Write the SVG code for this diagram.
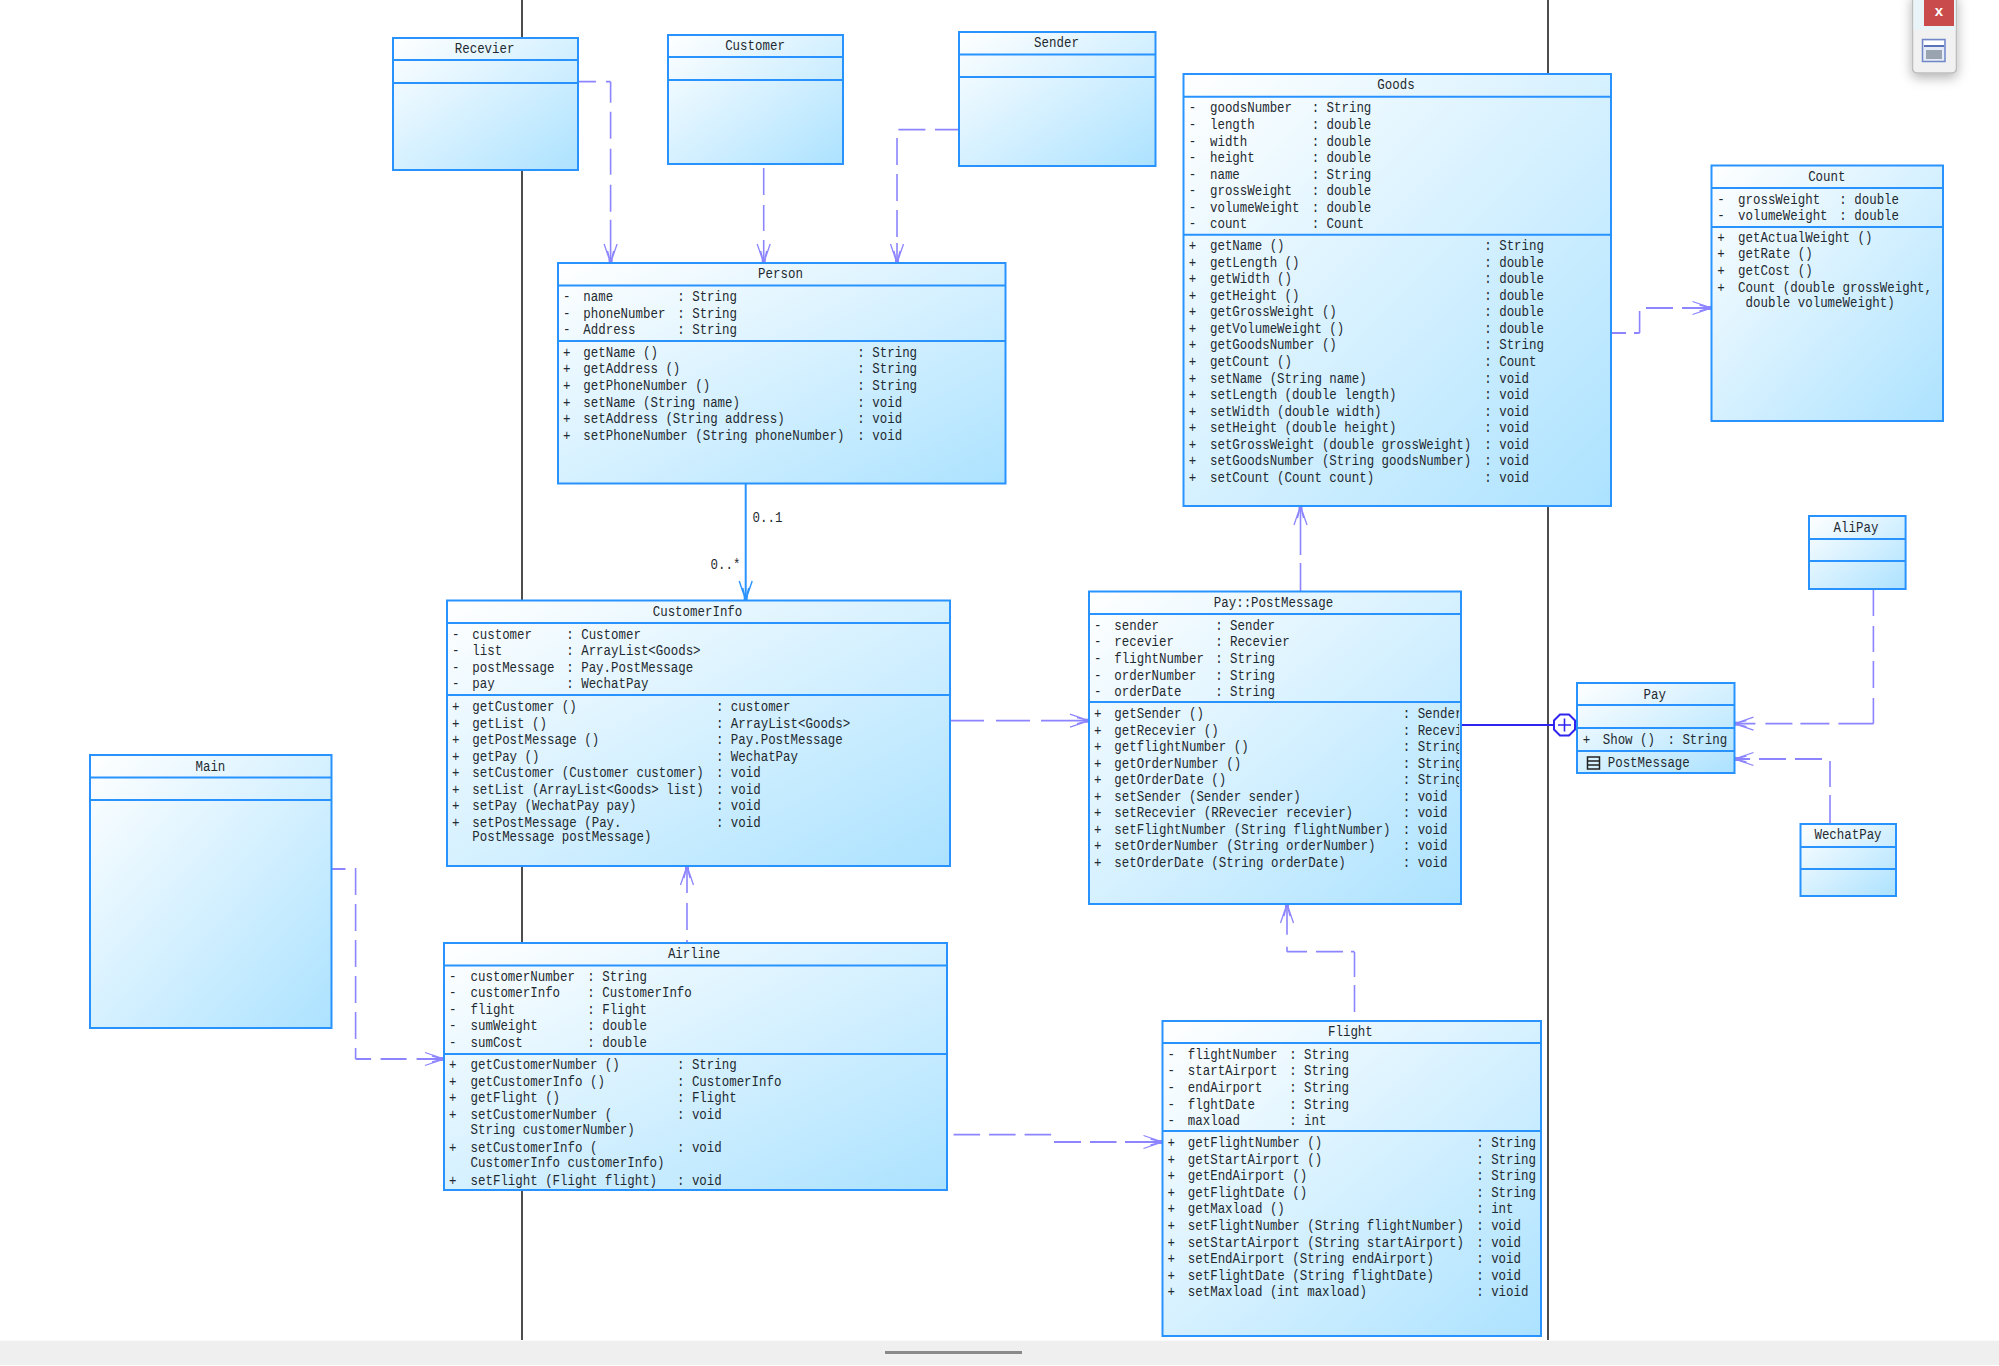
<svg xmlns="http://www.w3.org/2000/svg" width="1999" height="1366" viewBox="0 0 1999 1366">
<style>
.b{fill:url(#g);stroke:#2893ff;stroke-width:2}
.d{fill:none;stroke:#2893ff;stroke-width:2}
.ti{font:15px "Liberation Mono",monospace;fill:#1f2a30;text-anchor:middle}
.r text,.l{font:15px "Liberation Mono",monospace;fill:#1f2a30}
.dv{fill:none;stroke:#8d84ff;stroke-width:1.6}
.dh{fill:none;stroke:#8d84ff;stroke-width:1.8}
</style>
<defs>
<linearGradient id="g" x1="0" y1="0" x2="1" y2="1"><stop offset="0" stop-color="#fff"/><stop offset="1" stop-color="#ace2ff"/></linearGradient>
<marker id="o" markerUnits="userSpaceOnUse" markerWidth="24" markerHeight="18" refX="21" refY="8" orient="auto"><path d="M2 1.500L21 8L2 14.500M9 5L21 8L9 11" fill="none" stroke="#8d84ff" stroke-width="1.300"/><rect x="17" y="6" width="4" height="4" fill="#8d84ff"/></marker>
<marker id="n" markerUnits="userSpaceOnUse" markerWidth="24" markerHeight="18" refX="21" refY="8" orient="auto"><path d="M2 1.500L21 8L2 14.500M9 5L21 8L9 11" fill="none" stroke="#2893ff" stroke-width="1.400"/><rect x="17" y="6" width="4" height="4" fill="#2893ff"/></marker>
<clipPath id="c"><rect x="-10" y="700" width="456" height="90"/></clipPath>
<filter id="s" x="-40%" y="-30%" width="180%" height="170%"><feDropShadow dx="0" dy="4" stdDeviation="6" flood-color="#000" flood-opacity=".3"/></filter>
</defs>
<rect width="1999" height="1366" fill="#fff"/>
<path d="M522 0V1340M1548 0V1340" stroke="#222" stroke-width="1.600" fill="none"/>
<g id="connectors">
<g id="recevier-person"><path class="dh" stroke-dasharray="18 10 20" d="M578 81.700H610.600"/><path class="dv" stroke-dasharray="21 9 27 10 26 10 27 8 60" marker-end="url(#o)" d="M610.600 81.700V263"/></g>
<path id="customer-person" class="dv" stroke-dasharray="27 10 26 9 40" marker-end="url(#o)" d="M763.700 168V263"/>
<g id="sender-person"><path class="dh" stroke-dasharray="24 9.600 27" d="M959 129.700H897"/><path class="dv" stroke-dasharray="27 9 27 9 27 6 30" marker-end="url(#o)" d="M897 138V263"/></g>
<path id="person-customerinfo" fill="none" stroke="#2893ff" stroke-width="2" marker-end="url(#n)" d="M745.700 483.500V600"/>
<path id="airline-customerinfo" class="dv" stroke-dasharray="3 10 27 10 60" marker-end="url(#o)" d="M687 943V866"/>
<path id="postmessage-goods" class="dv" stroke-dasharray="28 8 60" marker-end="url(#o)" d="M1300.500 591V506"/>
<path id="customerinfo-postmessage" class="dh" stroke-dasharray="34 12 34 11 60" marker-end="url(#o)" d="M950 720.700H1089"/>
<g id="main-airline"><path class="dh" stroke-dasharray="14 10" d="M331.500 869H355.600"/><path class="dv" stroke-dasharray="27 9" d="M355.600 868V1059"/><path class="dh" stroke-dasharray="15.500 9.500 26 10 40" marker-end="url(#o)" d="M355.600 1059H444"/></g>
<g id="airline-flight"><path class="dh" stroke-dasharray="26.500 9" d="M953.600 1134.700H1052"/><path class="dh" stroke-dasharray="27 9 26.500 8.500 60" marker-end="url(#o)" d="M1054 1142H1162.500"/></g>
<g id="flight-postmessage"><path class="dv" stroke-dasharray="27 8 25" d="M1354.500 1012V951.700"/><path class="dh" stroke-dasharray="3.500 8 27 9 20" d="M1354.500 951.700H1287"/><path class="dv" stroke-dasharray="5 12 60" marker-end="url(#o)" d="M1287 951.700V904"/></g>
<g id="goods-count"><path class="dh" stroke-dasharray="15 8 6" d="M1611 333H1639.600"/><path class="dv" d="M1639.600 333V311"/><path class="dh" stroke-dasharray="27 9 60" marker-end="url(#o)" d="M1646 308H1711.500"/></g>
<g id="alipay-pay"><path class="dv" stroke-dasharray="27 10 26 9 27 10" d="M1873.400 589V723.700"/><path class="dh" stroke-dasharray="35 9 29 8 27 10 60" marker-end="url(#o)" d="M1873.400 723.700H1734.500"/></g>
<g id="wechatpay-pay"><path class="dv" stroke-dasharray="29 8 26" d="M1830 824V761"/><path class="dh" stroke-dasharray="0 8 27 9 27 9 60" marker-end="url(#o)" d="M1830 759H1734.500"/></g>
<g id="postmessage-pay"><path d="M1461 725H1554M1575 725H1577" stroke="#2f25ee" stroke-width="2.200" fill="none"/><path d="M1560 714.500H1569L1575 720.500V729.500L1569 735.500H1560L1554 729.500V720.500Z" fill="#fff" stroke="#2f25ee" stroke-width="2"/><path d="M1558 725H1571M1564.500 718.500V731.500" stroke="#2f25ee" stroke-width="1.600"/></g>
</g>
<text class="l" transform="translate(752.600 522) scale(.83 1)">0..1</text>
<text class="l" transform="translate(710.500 569) scale(.83 1)">0..*</text>

<g id="recevier"><rect class="b" x="393" y="38" width="185" height="132"/><path class="d" d="M393 60H578M393 83H578"/><text class="ti" transform="translate(484.600 53.300) scale(.83 1)">Recevier</text></g>
<g id="customer"><rect class="b" x="668" y="35" width="175" height="129"/><path class="d" d="M668 57H843M668 80H843"/><text class="ti" transform="translate(755 50) scale(.83 1)">Customer</text></g>
<g id="sender"><rect class="b" x="959" y="32" width="196.500" height="134"/><path class="d" d="M959 54.500H1155.500M959 77H1155.500"/><text class="ti" transform="translate(1056.500 47.300) scale(.83 1)">Sender</text></g>

<g id="person"><rect class="b" x="558" y="263" width="447.500" height="220.500"/><path class="d" d="M558 285.500H1005.500M558 341H1005.500"/><text class="ti" transform="translate(780.500 278.300) scale(.83 1)">Person</text>
<g class="r" transform="translate(558 0) scale(.83 1)">
<text y="301"><tspan x="6">-</tspan><tspan x="30.500">name</tspan><tspan x="143.700">: String</tspan></text>
<text y="317.600"><tspan x="6">-</tspan><tspan x="30.500">phoneNumber</tspan><tspan x="143.700">: String</tspan></text>
<text y="334"><tspan x="6">-</tspan><tspan x="30.500">Address</tspan><tspan x="143.700">: String</tspan></text>
<text y="357"><tspan x="6">+</tspan><tspan x="30.500">getName ()</tspan><tspan x="360.700">: String</tspan></text>
<text y="373.500"><tspan x="6">+</tspan><tspan x="30.500">getAddress ()</tspan><tspan x="360.700">: String</tspan></text>
<text y="390"><tspan x="6">+</tspan><tspan x="30.500">getPhoneNumber ()</tspan><tspan x="360.700">: String</tspan></text>
<text y="406.600"><tspan x="6">+</tspan><tspan x="30.500">setName (String name)</tspan><tspan x="360.700">: void</tspan></text>
<text y="423.200"><tspan x="6">+</tspan><tspan x="30.500">setAddress (String address)</tspan><tspan x="360.700">: void</tspan></text>
<text y="439.700"><tspan x="6">+</tspan><tspan x="30.500">setPhoneNumber (String phoneNumber)</tspan><tspan x="360.700">: void</tspan></text>
</g></g>

<g id="goods"><rect class="b" x="1183.500" y="74" width="427.500" height="432"/><path class="d" d="M1183.500 96.700H1611M1183.500 234.700H1611"/><text class="ti" transform="translate(1396 89.300) scale(.83 1)">Goods</text>
<g class="r" transform="translate(1183 0) scale(.83 1)">
<text y="112.500"><tspan x="7">-</tspan><tspan x="32.500">goodsNumber</tspan><tspan x="155">: String</tspan></text>
<text y="129"><tspan x="7">-</tspan><tspan x="32.500">length</tspan><tspan x="155">: double</tspan></text>
<text y="145.600"><tspan x="7">-</tspan><tspan x="32.500">width</tspan><tspan x="155">: double</tspan></text>
<text y="162.100"><tspan x="7">-</tspan><tspan x="32.500">height</tspan><tspan x="155">: double</tspan></text>
<text y="178.700"><tspan x="7">-</tspan><tspan x="32.500">name</tspan><tspan x="155">: String</tspan></text>
<text y="195.300"><tspan x="7">-</tspan><tspan x="32.500">grossWeight</tspan><tspan x="155">: double</tspan></text>
<text y="211.800"><tspan x="7">-</tspan><tspan x="32.500">volumeWeight</tspan><tspan x="155">: double</tspan></text>
<text y="228.400"><tspan x="7">-</tspan><tspan x="32.500">count</tspan><tspan x="155">: Count</tspan></text>
<text y="250.200"><tspan x="7">+</tspan><tspan x="32.500">getName ()</tspan><tspan x="363">: String</tspan></text>
<text y="266.700"><tspan x="7">+</tspan><tspan x="32.500">getLength ()</tspan><tspan x="363">: double</tspan></text>
<text y="283.300"><tspan x="7">+</tspan><tspan x="32.500">getWidth ()</tspan><tspan x="363">: double</tspan></text>
<text y="299.800"><tspan x="7">+</tspan><tspan x="32.500">getHeight ()</tspan><tspan x="363">: double</tspan></text>
<text y="316.400"><tspan x="7">+</tspan><tspan x="32.500">getGrossWeight ()</tspan><tspan x="363">: double</tspan></text>
<text y="332.900"><tspan x="7">+</tspan><tspan x="32.500">getVolumeWeight ()</tspan><tspan x="363">: double</tspan></text>
<text y="349.500"><tspan x="7">+</tspan><tspan x="32.500">getGoodsNumber ()</tspan><tspan x="363">: String</tspan></text>
<text y="366"><tspan x="7">+</tspan><tspan x="32.500">getCount ()</tspan><tspan x="363">: Count</tspan></text>
<text y="382.600"><tspan x="7">+</tspan><tspan x="32.500">setName (String name)</tspan><tspan x="363">: void</tspan></text>
<text y="399.200"><tspan x="7">+</tspan><tspan x="32.500">setLength (double length)</tspan><tspan x="363">: void</tspan></text>
<text y="415.700"><tspan x="7">+</tspan><tspan x="32.500">setWidth (double width)</tspan><tspan x="363">: void</tspan></text>
<text y="432.300"><tspan x="7">+</tspan><tspan x="32.500">setHeight (double height)</tspan><tspan x="363">: void</tspan></text>
<text y="448.800"><tspan x="7">+</tspan><tspan x="32.500">setGrossWeight (double grossWeight)</tspan><tspan x="363">: void</tspan></text>
<text y="465.400"><tspan x="7">+</tspan><tspan x="32.500">setGoodsNumber (String goodsNumber)</tspan><tspan x="363">: void</tspan></text>
<text y="481.900"><tspan x="7">+</tspan><tspan x="32.500">setCount (Count count)</tspan><tspan x="363">: void</tspan></text>
</g></g>

<g id="count"><rect class="b" x="1711.500" y="165.500" width="231.500" height="255.500"/><path class="d" d="M1711.500 188H1943M1711.500 227H1943"/><text class="ti" transform="translate(1826.800 181) scale(.83 1)">Count</text>
<g class="r" transform="translate(1711.500 0) scale(.83 1)">
<text y="204"><tspan x="7">-</tspan><tspan x="32">grossWeight</tspan><tspan x="154">: double</tspan></text>
<text y="220.500"><tspan x="7">-</tspan><tspan x="32">volumeWeight</tspan><tspan x="154">: double</tspan></text>
<text y="242"><tspan x="7">+</tspan><tspan x="32">getActualWeight ()</tspan></text>
<text y="258.500"><tspan x="7">+</tspan><tspan x="32">getRate ()</tspan></text>
<text y="275"><tspan x="7">+</tspan><tspan x="32">getCost ()</tspan></text>
<text y="291.600"><tspan x="7">+</tspan><tspan x="32">Count (double grossWeight,</tspan></text>
<text y="307" x="41">double volumeWeight)</text>
</g></g>

<g id="customerinfo"><rect class="b" x="447" y="600.500" width="503" height="265.500"/><path class="d" d="M447 623H950M447 695H950"/><text class="ti" transform="translate(697.500 616) scale(.83 1)">CustomerInfo</text>
<g class="r" transform="translate(447 0) scale(.83 1)">
<text y="638.700"><tspan x="6">-</tspan><tspan x="30.500">customer</tspan><tspan x="143.700">: Customer</tspan></text>
<text y="655.200"><tspan x="6">-</tspan><tspan x="30.500">list</tspan><tspan x="143.700">: ArrayList&lt;Goods&gt;</tspan></text>
<text y="671.800"><tspan x="6">-</tspan><tspan x="30.500">postMessage</tspan><tspan x="143.700">: Pay.PostMessage</tspan></text>
<text y="688.300"><tspan x="6">-</tspan><tspan x="30.500">pay</tspan><tspan x="143.700">: WechatPay</tspan></text>
<text y="711"><tspan x="6">+</tspan><tspan x="30.500">getCustomer ()</tspan><tspan x="324">: customer</tspan></text>
<text y="727.600"><tspan x="6">+</tspan><tspan x="30.500">getList ()</tspan><tspan x="324">: ArrayList&lt;Goods&gt;</tspan></text>
<text y="744.100"><tspan x="6">+</tspan><tspan x="30.500">getPostMessage ()</tspan><tspan x="324">: Pay.PostMessage</tspan></text>
<text y="760.700"><tspan x="6">+</tspan><tspan x="30.500">getPay ()</tspan><tspan x="324">: WechatPay</tspan></text>
<text y="777.200"><tspan x="6">+</tspan><tspan x="30.500">setCustomer (Customer customer)</tspan><tspan x="324">: void</tspan></text>
<text y="793.800"><tspan x="6">+</tspan><tspan x="30.500">setList (ArrayList&lt;Goods&gt; list)</tspan><tspan x="324">: void</tspan></text>
<text y="810.300"><tspan x="6">+</tspan><tspan x="30.500">setPay (WechatPay pay)</tspan><tspan x="324">: void</tspan></text>
<text y="826.900"><tspan x="6">+</tspan><tspan x="30.500">setPostMessage (Pay.</tspan><tspan x="324">: void</tspan></text>
<text y="841.300" x="30.500">PostMessage postMessage)</text>
</g></g>

<g id="airline"><rect class="b" x="444" y="943" width="503" height="247"/><path class="d" d="M444 965.500H947M444 1054H947"/><text class="ti" transform="translate(694 957.800) scale(.83 1)">Airline</text>
<g class="r" transform="translate(444 0) scale(.83 1)">
<text y="980.800"><tspan x="6">-</tspan><tspan x="32">customerNumber</tspan><tspan x="172.700">: String</tspan></text>
<text y="997.300"><tspan x="6">-</tspan><tspan x="32">customerInfo</tspan><tspan x="172.700">: CustomerInfo</tspan></text>
<text y="1013.900"><tspan x="6">-</tspan><tspan x="32">flight</tspan><tspan x="172.700">: Flight</tspan></text>
<text y="1030.400"><tspan x="6">-</tspan><tspan x="32">sumWeight</tspan><tspan x="172.700">: double</tspan></text>
<text y="1047"><tspan x="6">-</tspan><tspan x="32">sumCost</tspan><tspan x="172.700">: double</tspan></text>
<text y="1069.300"><tspan x="6">+</tspan><tspan x="32">getCustomerNumber ()</tspan><tspan x="280.700">: String</tspan></text>
<text y="1085.900"><tspan x="6">+</tspan><tspan x="32">getCustomerInfo ()</tspan><tspan x="280.700">: CustomerInfo</tspan></text>
<text y="1102.300"><tspan x="6">+</tspan><tspan x="32">getFlight ()</tspan><tspan x="280.700">: Flight</tspan></text>
<text y="1118.800"><tspan x="6">+</tspan><tspan x="32">setCustomerNumber (</tspan><tspan x="280.700">: void</tspan></text>
<text y="1133.600" x="32">String customerNumber)</text>
<text y="1152"><tspan x="6">+</tspan><tspan x="32">setCustomerInfo (</tspan><tspan x="280.700">: void</tspan></text>
<text y="1166.800" x="32">CustomerInfo customerInfo)</text>
<text y="1185.200"><tspan x="6">+</tspan><tspan x="32">setFlight (Flight flight)</tspan><tspan x="280.700">: void</tspan></text>
</g></g>

<g id="postmessage"><rect class="b" x="1089" y="591.500" width="372" height="312.500"/><path class="d" d="M1089 614H1461M1089 702H1461"/><text class="ti" transform="translate(1273.500 607) scale(.83 1)">Pay::PostMessage</text>
<g class="r" transform="translate(1089 0) scale(.83 1)">
<text y="630"><tspan x="6">-</tspan><tspan x="30.500">sender</tspan><tspan x="152">: Sender</tspan></text>
<text y="646.500"><tspan x="6">-</tspan><tspan x="30.500">recevier</tspan><tspan x="152">: Recevier</tspan></text>
<text y="663.100"><tspan x="6">-</tspan><tspan x="30.500">flightNumber</tspan><tspan x="152">: String</tspan></text>
<text y="679.600"><tspan x="6">-</tspan><tspan x="30.500">orderNumber</tspan><tspan x="152">: String</tspan></text>
<text y="696.200"><tspan x="6">-</tspan><tspan x="30.500">orderDate</tspan><tspan x="152">: String</tspan></text>
<g clip-path="url(#c)">
<text y="718"><tspan x="6">+</tspan><tspan x="30.500">getSender ()</tspan><tspan x="378">: Sender</tspan></text>
<text y="734.600"><tspan x="6">+</tspan><tspan x="30.500">getRecevier ()</tspan><tspan x="378">: Recevier</tspan></text>
<text y="751.100"><tspan x="6">+</tspan><tspan x="30.500">getflightNumber ()</tspan><tspan x="378">: String</tspan></text>
<text y="767.700"><tspan x="6">+</tspan><tspan x="30.500">getOrderNumber ()</tspan><tspan x="378">: String</tspan></text>
<text y="784.200"><tspan x="6">+</tspan><tspan x="30.500">getOrderDate ()</tspan><tspan x="378">: String</tspan></text>
</g>
<text y="800.800"><tspan x="6">+</tspan><tspan x="30.500">setSender (Sender sender)</tspan><tspan x="378">: void</tspan></text>
<text y="817.300"><tspan x="6">+</tspan><tspan x="30.500">setRecevier (RRevecier recevier)</tspan><tspan x="378">: void</tspan></text>
<text y="833.900"><tspan x="6">+</tspan><tspan x="30.500">setFlightNumber (String flightNumber)</tspan><tspan x="378">: void</tspan></text>
<text y="850.400"><tspan x="6">+</tspan><tspan x="30.500">setOrderNumber (String orderNumber)</tspan><tspan x="378">: void</tspan></text>
<text y="867"><tspan x="6">+</tspan><tspan x="30.500">setOrderDate (String orderDate)</tspan><tspan x="378">: void</tspan></text>
</g></g>

<g id="flight"><rect class="b" x="1162.500" y="1021" width="378.500" height="315"/><path class="d" d="M1162.500 1043H1541M1162.500 1131H1541"/><text class="ti" transform="translate(1350.400 1036) scale(.83 1)">Flight</text>
<g class="r" transform="translate(1162.500 0) scale(.83 1)">
<text y="1059"><tspan x="6">-</tspan><tspan x="30.500">flightNumber</tspan><tspan x="152.600">: String</tspan></text>
<text y="1075.500"><tspan x="6">-</tspan><tspan x="30.500">startAirport</tspan><tspan x="152.600">: String</tspan></text>
<text y="1092.100"><tspan x="6">-</tspan><tspan x="30.500">endAirport</tspan><tspan x="152.600">: String</tspan></text>
<text y="1108.600"><tspan x="6">-</tspan><tspan x="30.500">flghtDate</tspan><tspan x="152.600">: String</tspan></text>
<text y="1125.200"><tspan x="6">-</tspan><tspan x="30.500">maxload</tspan><tspan x="152.600">: int</tspan></text>
<text y="1147.300"><tspan x="6">+</tspan><tspan x="30.500">getFlightNumber ()</tspan><tspan x="378">: String</tspan></text>
<text y="1163.900"><tspan x="6">+</tspan><tspan x="30.500">getStartAirport ()</tspan><tspan x="378">: String</tspan></text>
<text y="1180.400"><tspan x="6">+</tspan><tspan x="30.500">getEndAirport ()</tspan><tspan x="378">: String</tspan></text>
<text y="1197"><tspan x="6">+</tspan><tspan x="30.500">getFlightDate ()</tspan><tspan x="378">: String</tspan></text>
<text y="1213.500"><tspan x="6">+</tspan><tspan x="30.500">getMaxload ()</tspan><tspan x="378">: int</tspan></text>
<text y="1230.100"><tspan x="6">+</tspan><tspan x="30.500">setFlightNumber (String flightNumber)</tspan><tspan x="378">: void</tspan></text>
<text y="1246.600"><tspan x="6">+</tspan><tspan x="30.500">setStartAirport (String startAirport)</tspan><tspan x="378">: void</tspan></text>
<text y="1263.200"><tspan x="6">+</tspan><tspan x="30.500">setEndAirport (String endAirport)</tspan><tspan x="378">: void</tspan></text>
<text y="1279.700"><tspan x="6">+</tspan><tspan x="30.500">setFlightDate (String flightDate)</tspan><tspan x="378">: void</tspan></text>
<text y="1296.300"><tspan x="6">+</tspan><tspan x="30.500">setMaxload (int maxload)</tspan><tspan x="378">: vioid</tspan></text>
</g></g>

<g id="main"><rect class="b" x="90" y="755" width="241.500" height="273"/><path class="d" d="M90 777.500H331.500M90 800H331.500"/><text class="ti" transform="translate(210.400 771) scale(.83 1)">Main</text></g>

<g id="pay"><rect class="b" x="1577" y="683" width="157.500" height="90"/><path class="d" d="M1577 705H1734.500M1577 728H1734.500M1577 751H1734.500"/><text class="ti" transform="translate(1654.700 699) scale(.83 1)">Pay</text>
<g class="r" transform="translate(1577 0) scale(.83 1)">
<text y="744"><tspan x="7">+</tspan><tspan x="31">Show ()</tspan><tspan x="109">: String</tspan></text>
<text y="766.700" x="37">PostMessage</text>
</g>
<path d="M1587.500 757H1599.500V769H1587.500ZM1587.500 761H1599.500M1587.500 765H1599.500" fill="none" stroke="#222" stroke-width="1.500"/></g>

<g id="alipay"><rect class="b" x="1809" y="516" width="96.600" height="73"/><path class="d" d="M1809 539H1905.600M1809 561H1905.600"/><text class="ti" transform="translate(1856 532) scale(.83 1)">AliPay</text></g>
<g id="wechatpay"><rect class="b" x="1800.500" y="824" width="95.500" height="72"/><path class="d" d="M1800.500 847H1896M1800.500 869H1896"/><text class="ti" transform="translate(1848 839.300) scale(.83 1)">WechatPay</text></g>

<rect x="0" y="1340.700" width="1999" height="24.300" fill="#efefef"/>
<rect x="885" y="1351" width="137" height="3" fill="#8a8a8a"/>
<g id="toolbar">
<path d="M1912.500 -5H1956.500V68Q1956.500 73 1951.500 73H1917.500Q1912.500 73 1912.500 68Z" fill="#f1f1f1" stroke="#bdbdbd" stroke-width="1.500" filter="url(#s)"/>
<rect x="1913.500" y="0" width="42" height="30" fill="#e8f4f7"/>
<rect x="1924" y="0" width="30" height="26" fill="#c94b4b"/>
<text x="1939" y="16" font-family="Liberation Sans,sans-serif" font-weight="bold" font-size="15" fill="#fff" text-anchor="middle">x</text>
<rect x="1922.500" y="39.500" width="22.500" height="22" fill="#e4eaf6" stroke="#6f86c8" stroke-width="1.500"/>
<rect x="1924" y="41" width="20" height="4" fill="#fff"/>
<rect x="1924" y="45" width="20" height="2" fill="#5a72b8"/>
<rect x="1926" y="50" width="16" height="9" fill="#9aa4b0"/>
</g>
</svg>
